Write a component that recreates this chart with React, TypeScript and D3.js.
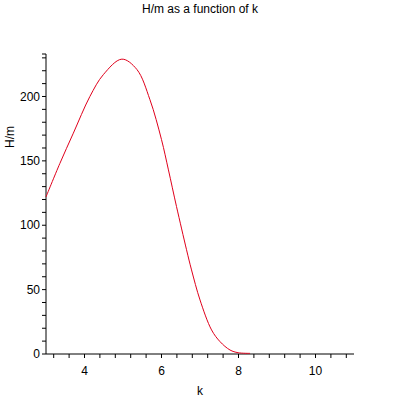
import React, { useEffect, useRef } from 'react';
import * as d3 from 'd3';

// values
const kValues = [3.0, 3.36, 3.71, 4.14, 4.49, 4.97, 5.36, 5.7, 6.0, 6.18, 6.39, 6.65, 6.78, 7.0, 7.3, 7.52, 7.78, 7.99, 8.3];
const hValues = [122, 148, 171.5, 200, 217, 229, 221, 197.5, 166.5, 143, 114.5, 81, 65.3, 42, 18.7, 9.6, 3.1, 1, 0.5];
const xTickLabels = [4, 6, 8, 10];
const yTickLabels = [0, 50, 100, 150, 200];

const App = () => {
  const svgRef = useRef<SVGSVGElement>(null);
  useEffect(() => {
    const svg = d3.select(svgRef.current);
    svg.selectAll('*').remove();
    const font = 'Arial, "Liberation Sans", sans-serif';

    const x = d3.scaleLinear().domain([3, 11]).range([46, 354]);
    const y = d3.scaleLinear().domain([0, 233]).range([354, 54]);

    svg.append('text').attr('x', 200).attr('y', 13).attr('text-anchor', 'middle')
      .style('font-family', font).style('font-size', '12px').text('H/m as a function of k');

    // x axis: minor ticks every 0.4, labels on the even numbers
    const xg = svg.append('g').attr('transform', `translate(0,${y(0)})`);
    xg.append('line').attr('x1', x(3)).attr('x2', x(11)).attr('stroke', '#000');
    xg.selectAll('.t').data(d3.range(3.2, 11.01, 0.4)).join('line')
      .attr('x1', d => x(d)).attr('x2', d => x(d)).attr('y1', 0).attr('y2', 4).attr('stroke', '#000');
    xg.selectAll('text').data(xTickLabels).join('text')
      .attr('x', d => x(d)).attr('y', 21).attr('text-anchor', 'middle')
      .style('font-family', font).style('font-size', '12px').text(d => d);

    // y axis: ticks every 10
    const yg = svg.append('g').attr('transform', `translate(${x(3)},0)`);
    yg.append('line').attr('y1', y(0)).attr('y2', y(233)).attr('stroke', '#000');
    yg.selectAll('.t').data(d3.range(0, 231, 10).concat([233])).join('line')
      .attr('y1', d => y(d)).attr('y2', d => y(d)).attr('x1', -4).attr('x2', 0).attr('stroke', '#000');
    yg.selectAll('text').data(yTickLabels).join('text')
      .attr('x', -6).attr('y', d => y(d)).attr('dy', '0.35em').attr('text-anchor', 'end')
      .style('font-family', font).style('font-size', '12px').text(d => d);

    svg.append('text').attr('x', 200).attr('y', 395).attr('text-anchor', 'middle')
      .style('font-family', font).style('font-size', '12px').text('k');
    svg.append('text').attr('transform', 'translate(14,137) rotate(-90)').attr('text-anchor', 'middle')
      .style('font-family', font).style('font-size', '12px').text('H/m');

    const pts = kValues.map((k, i) => [k, hValues[i]] as [number, number]);
    const line = d3.line<[number, number]>().x(d => x(d[0])).y(d => y(d[1])).curve(d3.curveCatmullRom);
    svg.append('path').datum(pts).attr('fill', 'none').attr('stroke', '#e0001b').attr('stroke-width', 1).attr('d', line);
  }, []);

  return (
    <svg ref={svgRef} width={400} height={400}
      style={{ position: 'absolute', left: 0, top: 0, background: '#fff' }} />
  );
};

export default App;
